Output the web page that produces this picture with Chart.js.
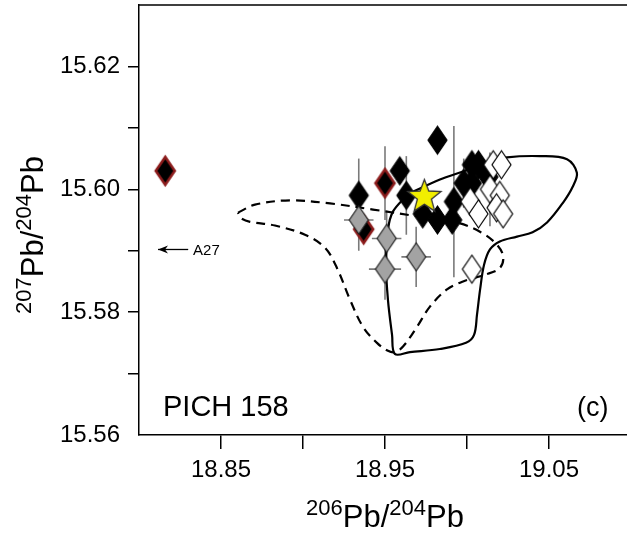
<!DOCTYPE html>
<html>
<head>
<meta charset="utf-8">
<title>PICH 158 Pb isotopes</title>
<script src="https://cdn.jsdelivr.net/npm/chart.js@4.4.1/dist/chart.umd.min.js"></script>
<style>
  html, body { margin: 0; padding: 0; background: #fff; overflow: hidden; }
  #plot { display: block; }
</style>
</head>
<body>
<canvas id="plot" width="631" height="536"></canvas>
<script>
// ---- data ----
const blackX    = [18.934, 18.959, 18.963, 18.982, 18.973, 18.982, 18.991, 18.992, 18.998, 19.003, 19.007, 19.003, 19.013];
const blackY    = [15.599, 15.603, 15.599, 15.608, 15.596, 15.595, 15.595, 15.598, 15.601, 15.604, 15.604, 15.601, 15.602];
const blackYErr = [0.006, 0, 0.0064, 0, 0, 0, 0, 0.0123, 0.004, 0, 0, 0, 0];

const whiteX    = [19.016, 19.021, 19.014, 19.020, 19.002, 19.007, 19.018, 19.022, 19.003];
const whiteY    = [15.604, 15.604, 15.600, 15.599, 15.598, 15.596, 15.597, 15.596, 15.587];
const whiteYErr = [0, 0, 0.006, 0, 0, 0, 0, 0, 0];

const redX    = [18.816, 18.950, 18.937];
const redY    = [15.603, 15.601, 15.5935];
const redYErr = [0, 0.006, 0];

const grayX    = [18.934, 18.951, 18.950, 18.969];
const grayY    = [15.595, 15.592, 15.587, 15.589];
const grayXErr = [0.009, 0.009, 0.0098, 0.009];
const grayYErr = [0.005, 0.0045, 0.005, 0.0049];

const starX = [18.974];
const starY = [15.599];

// field outlines (closed)
const solidFieldX = [18.964, 18.9835, 18.9976, 19.014, 19.0244, 19.0445, 19.061, 19.067, 19.0646, 19.0585,
                     19.0488, 19.040, 19.0305, 19.020, 19.014, 19.0104, 19.008, 19.0061, 19.0043, 18.9994,
                     18.9835, 18.9652, 18.956, 18.9543, 18.9518, 18.9506, 18.9518, 18.9549];
const solidFieldY = [15.5992, 15.6016, 15.6029, 15.6045, 15.6052, 15.6054, 15.6049, 15.6027, 15.6005, 15.5978,
                     15.5946, 15.5930, 15.5923, 15.5915, 15.5902, 15.5877, 15.5837, 15.5796, 15.5763, 15.5750,
                     15.5740, 15.5735, 15.5732, 15.5763, 15.5820, 15.5877, 15.5934, 15.5964];

const dashedFieldX = [18.8604, 18.8707, 18.8921, 18.9165, 18.9427, 18.9695, 18.9939, 19.0079, 19.0171, 19.022,
                      19.0201, 19.011, 18.9976, 18.9878, 18.9774, 18.9695, 18.961, 18.9561, 18.9518, 18.9451,
                      18.9366, 18.9287, 18.9207, 18.9134, 18.9012, 18.8829, 18.8677, 18.8616];
const dashedFieldY = [15.5962, 15.5975, 15.5982, 15.5977, 15.5967, 15.5956, 15.5946, 15.5931, 15.5913, 15.5892,
                      15.5872, 15.5861, 15.5850, 15.5837, 15.5809, 15.5776, 15.5744, 15.5735, 15.5737, 15.5750,
                      15.5776, 15.5820, 15.5872, 15.5905, 15.5926, 15.5941, 15.5947, 15.5954];

const xTickValues = [18.85, 18.90, 18.95, 19.00, 19.05];
const xTickLabels = ["18.85", "", "18.95", "", "19.05"];
const yTickValues = [15.56, 15.57, 15.58, 15.59, 15.60, 15.61, 15.62];
const yTickLabels = ["15.56", "", "15.58", "", "15.60", "", "15.62"];

const sampleLabel = "PICH 158";
const panelLabel = "(c)";
const arrowNote = { label: "A27", x0: 18.830, x1: 18.8116, y: 15.5902, textX: 18.833 };

const FONT = "'Liberation Sans', Arial, Helvetica, sans-serif";

// ---- marker images ----
function diamondMarker(fill, stroke, lw) {
  const w = 19, h = 28, pad = Math.ceil(lw) + 1;
  const c = document.createElement("canvas");
  c.width = w + 2 * pad; c.height = h + 2 * pad;
  const g = c.getContext("2d");
  g.beginPath();
  g.moveTo(pad + w / 2, pad);
  g.lineTo(pad + w, pad + h / 2);
  g.lineTo(pad + w / 2, pad + h);
  g.lineTo(pad, pad + h / 2);
  g.closePath();
  g.fillStyle = fill; g.fill();
  g.lineWidth = lw; g.strokeStyle = stroke; g.lineJoin = "miter"; g.stroke();
  return c;
}

function starMarker(fill, stroke) {
  const R = 17.5, r = 7.4, size = 2 * R + 4;
  const c = document.createElement("canvas");
  c.width = size; c.height = size;
  const g = c.getContext("2d");
  const cx = size / 2, cy = size / 2 + 1.5;
  g.beginPath();
  for (let i = 0; i < 10; i++) {
    const rad = i % 2 ? r : R;
    const a = -Math.PI / 2 + i * Math.PI / 5;
    const px = cx + rad * Math.cos(a), py = cy + rad * Math.sin(a);
    i ? g.lineTo(px, py) : g.moveTo(px, py);
  }
  g.closePath();
  g.fillStyle = fill; g.fill();
  g.lineWidth = 1.3; g.strokeStyle = stroke; g.stroke();
  return c;
}

const toXY = (xs, ys) => xs.map((x, i) => ({ x, y: ys[i] }));
const closed = (xs, ys) => { const p = toXY(xs, ys); p.push(p[0]); return p; };

// ---- plugins ----
// error bars drawn under the markers
const errorGroups = [
  { xs: blackX, ys: blackY, yerr: blackYErr },
  { xs: whiteX, ys: whiteY, yerr: whiteYErr },
  { xs: redX, ys: redY, yerr: redYErr },
  { xs: grayX, ys: grayY, yerr: grayYErr, xerr: grayXErr },
];

const errorBarPlugin = {
  id: "errorBars",
  beforeDatasetsDraw(chart) {
    const { ctx, scales: { x, y }, chartArea } = chart;
    ctx.save();
    ctx.beginPath();
    ctx.rect(chartArea.left, chartArea.top, chartArea.right - chartArea.left, chartArea.bottom - chartArea.top);
    ctx.clip();
    ctx.strokeStyle = "#7a7a7a";
    ctx.lineWidth = 1.6;
    errorGroups.forEach(gr => {
      gr.xs.forEach((xv, i) => {
        const px = x.getPixelForValue(xv), py = y.getPixelForValue(gr.ys[i]);
        ctx.beginPath();
        if (gr.yerr && gr.yerr[i]) {
          ctx.moveTo(px, y.getPixelForValue(gr.ys[i] - gr.yerr[i]));
          ctx.lineTo(px, y.getPixelForValue(gr.ys[i] + gr.yerr[i]));
        }
        if (gr.xerr && gr.xerr[i]) {
          ctx.moveTo(x.getPixelForValue(xv - gr.xerr[i]), py);
          ctx.lineTo(x.getPixelForValue(xv + gr.xerr[i]), py);
        }
        ctx.stroke();
      });
    });
    ctx.restore();
  }
};

// frame, labels, axis titles with superscripts
function drawIsoTitle(ctx, parts, x, y, rotate) {
  // parts: [text, isSuper]
  ctx.save();
  ctx.translate(x, y);
  if (rotate) ctx.rotate(-Math.PI / 2);
  const big = "31px " + FONT, small = "22px " + FONT;
  let total = 0;
  parts.forEach(([t, sup]) => { ctx.font = sup ? small : big; total += ctx.measureText(t).width; });
  let cx = -total / 2;
  ctx.fillStyle = "#000";
  ctx.textBaseline = "alphabetic";
  ctx.textAlign = "left";
  parts.forEach(([t, sup]) => {
    ctx.font = sup ? small : big;
    ctx.fillText(t, cx, sup ? -12 : 0);
    cx += ctx.measureText(t).width;
  });
  ctx.restore();
}

const decorPlugin = {
  id: "decor",
  afterDraw(chart) {
    const { ctx, chartArea: a, scales: { x, y } } = chart;
    ctx.save();
    // top and right frame
    ctx.strokeStyle = "#000";
    ctx.lineWidth = 1.5;
    ctx.beginPath();
    ctx.moveTo(a.left, a.top);
    ctx.lineTo(a.right, a.top);
    ctx.lineTo(a.right, a.bottom);
    ctx.stroke();

    // in-panel labels
    ctx.fillStyle = "#000";
    ctx.textBaseline = "alphabetic";
    ctx.textAlign = "left";
    ctx.font = "29px " + FONT;
    ctx.fillText(sampleLabel, 163, 416);
    ctx.font = "27px " + FONT;
    ctx.fillText(panelLabel, 577, 416);

    // A27 arrow
    const ay = y.getPixelForValue(arrowNote.y);
    const ax0 = x.getPixelForValue(arrowNote.x0), ax1 = x.getPixelForValue(arrowNote.x1);
    ctx.lineWidth = 1.3;
    ctx.beginPath();
    ctx.moveTo(ax0, ay);
    ctx.lineTo(ax1, ay);
    ctx.stroke();
    ctx.beginPath();
    ctx.moveTo(ax1, ay);
    ctx.lineTo(ax1 + 10, ay - 4);
    ctx.lineTo(ax1 + 7, ay);
    ctx.lineTo(ax1 + 10, ay + 4);
    ctx.closePath();
    ctx.fill();
    ctx.font = "15px " + FONT;
    ctx.textBaseline = "middle";
    ctx.fillText(arrowNote.label, x.getPixelForValue(arrowNote.textX), ay + 1);
    ctx.restore();

    drawIsoTitle(ctx, [["206", true], ["Pb/", false], ["204", true], ["Pb", false]], (a.left + a.right) / 2, 527, false);
    drawIsoTitle(ctx, [["207", true], ["Pb/", false], ["204", true], ["Pb", false]], 43, 235, true);
  }
};

// ---- chart ----
const ctx = document.getElementById("plot").getContext("2d");

const tickFont = { family: FONT, size: 24 };
const sameValue = (a, b) => Math.abs(a - b) < 1e-9;
// fixed axis boxes so the plot frame lands where the original has it
const fixBox = size => s => {
  if (s.isHorizontal()) s.height = size; else s.width = size;
  s.paddingLeft = s.paddingRight = s.paddingTop = s.paddingBottom = 0;
};

const chart = new Chart(ctx, {
  type: "scatter",
  data: {
    datasets: [
      { label: "star", data: toXY(starX, starY), order: 0,
        pointStyle: starMarker("#f2ee00", "#333333"), pointRadius: 17 },
      { label: "white", data: toXY(whiteX, whiteY), order: 1,
        pointStyle: diamondMarker("#ffffff", "#000000", 1.2), pointRadius: 10 },
      { label: "gray", data: toXY(grayX, grayY), order: 2,
        pointStyle: diamondMarker("#a3a3a3", "#222222", 1.2), pointRadius: 10 },
      { label: "black", data: toXY(blackX, blackY), order: 3,
        pointStyle: diamondMarker("#000000", "#000000", 1.2), pointRadius: 10 },
      { label: "red", data: toXY(redX, redY), order: 4,
        pointStyle: diamondMarker("#000000", "#8c1c1c", 2.6), pointRadius: 10 },
      { label: "field solid", data: closed(solidFieldX, solidFieldY), order: 10,
        showLine: true, pointRadius: 0, borderColor: "#000", borderWidth: 2.2, tension: 0.35, fill: false },
      { label: "field dashed", data: closed(dashedFieldX, dashedFieldY), order: 11,
        showLine: true, pointRadius: 0, borderColor: "#000", borderWidth: 2.2, borderDash: [9, 6],
        tension: 0.35, fill: false },
    ]
  },
  options: {
    responsive: false,
    animation: false,
    events: [],
    layout: { autoPadding: false, padding: { left: 0, right: 0, top: 5, bottom: 0 } },
    plugins: { legend: { display: false }, tooltip: { enabled: false }, title: { display: false } },
    scales: {
      x: {
        type: "linear",
        min: 18.80, max: 19.10,
        afterBuildTicks: s => { s.ticks = xTickValues.map(v => ({ value: v })); },
        afterFit: fixBox(101),
        ticks: {
          callback: (v, i) => xTickLabels[i],
          font: tickFont, color: "#000", maxRotation: 0, autoSkip: false, padding: 7
        },
        grid: { drawOnChartArea: false, drawTicks: true, tickLength: 14, color: "#000", lineWidth: 1.5 },
        border: { display: true, color: "#000", width: 1.5 }
      },
      y: {
        type: "linear",
        min: 15.56, max: 15.63,
        afterBuildTicks: s => { s.ticks = yTickValues.map(v => ({ value: v })); },
        afterFit: fixBox(139),
        ticks: {
          callback: (v, i) => yTickLabels[i],
          font: tickFont, color: "#000", autoSkip: false, padding: 8
        },
        grid: {
          drawOnChartArea: false, drawTicks: true, tickLength: 11, lineWidth: 1.5,
          color: c => (c.tick && sameValue(c.tick.value, 15.56)) ? "rgba(0,0,0,0)" : "#000"
        },
        border: { display: true, color: "#000", width: 1.5 }
      }
    }
  },
  plugins: [errorBarPlugin, decorPlugin]
});
</script>
</body>
</html>
